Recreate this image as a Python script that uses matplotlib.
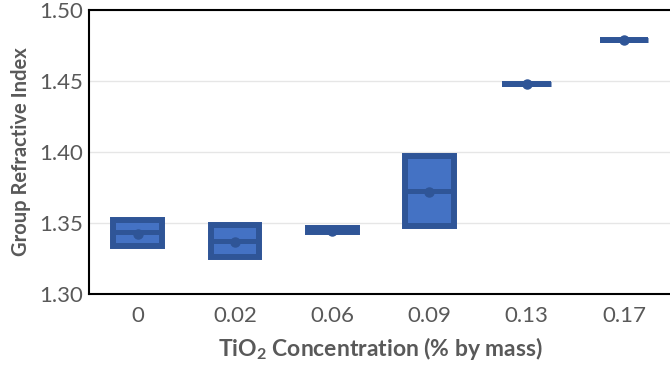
import matplotlib
matplotlib.use("Agg")
from matplotlib import pyplot as plt

# values
categories = ["0", "0.02", "0.06", "0.09", "0.13", "0.17"]
q1 = [1.3339, 1.3258, 1.3437, 1.3477, 1.4480, 1.4789]
q3 = [1.3519, 1.3486, 1.3463, 1.3970, 1.4480, 1.4789]
medians = [1.3435, 1.3371, 1.3450, 1.3725, 1.4480, 1.4789]
means = [1.3425, 1.3365, 1.3447, 1.3720, 1.4480, 1.4792]
yticks = [1.30, 1.35, 1.40, 1.45, 1.50]

dark = "#2F5597"
fill = "#4472C4"
gray = "#595959"

plt.rcParams["font.family"] = ["Lato", "DejaVu Sans"]

fig = plt.figure(figsize=(6.70, 3.68), dpi=100)
ax = fig.add_axes([0.1328, 0.2011, 0.8712, 0.7717])

stats = []
for i in range(len(categories)):
    stats.append({"med": medians[i], "q1": q1[i], "q3": q3[i],
                  "whislo": q1[i], "whishi": q3[i], "mean": means[i],
                  "fliers": []})

ax.bxp(stats, positions=range(len(categories)), widths=0.5,
       patch_artist=True, showcaps=False, showfliers=False, showmeans=True,
       boxprops=dict(facecolor=fill, edgecolor=dark, linewidth=4.3),
       medianprops=dict(color=dark, linewidth=3.6, solid_capstyle="butt"),
       whiskerprops=dict(color=dark, linewidth=0),
       meanprops=dict(marker="o", markerfacecolor=dark, markeredgecolor=dark,
                      markersize=6.5))

ax.set_xlim(-0.5, 5.5)
ax.set_ylim(1.30, 1.50)
ax.set_yticks(yticks)
ax.set_yticklabels([f"{v:.2f}" for v in yticks])
ax.set_xticks(range(len(categories)))
ax.set_xticklabels(categories)
ax.tick_params(axis="both", length=0, labelsize=16, labelcolor=gray)
ax.tick_params(axis="y", pad=4)
ax.tick_params(axis="x", pad=9)

ax.grid(axis="y", color="#e6e6e6", linewidth=1)
ax.set_axisbelow(True)
for s in ["top", "left", "bottom"]:
    ax.spines[s].set_linewidth(1.5)
    ax.spines[s].set_color("black")
ax.spines["right"].set_visible(False)

ax.set_ylabel("Group Refractive Index", fontsize=14.5, fontweight="bold",
              color=gray, labelpad=6)
ax.set_xlabel("TiO$_\\mathregular{2}$ Concentration (% by mass)", fontsize=16.5,
              fontweight="bold", color=gray, labelpad=6)

fig.savefig("out.png", dpi=100)
